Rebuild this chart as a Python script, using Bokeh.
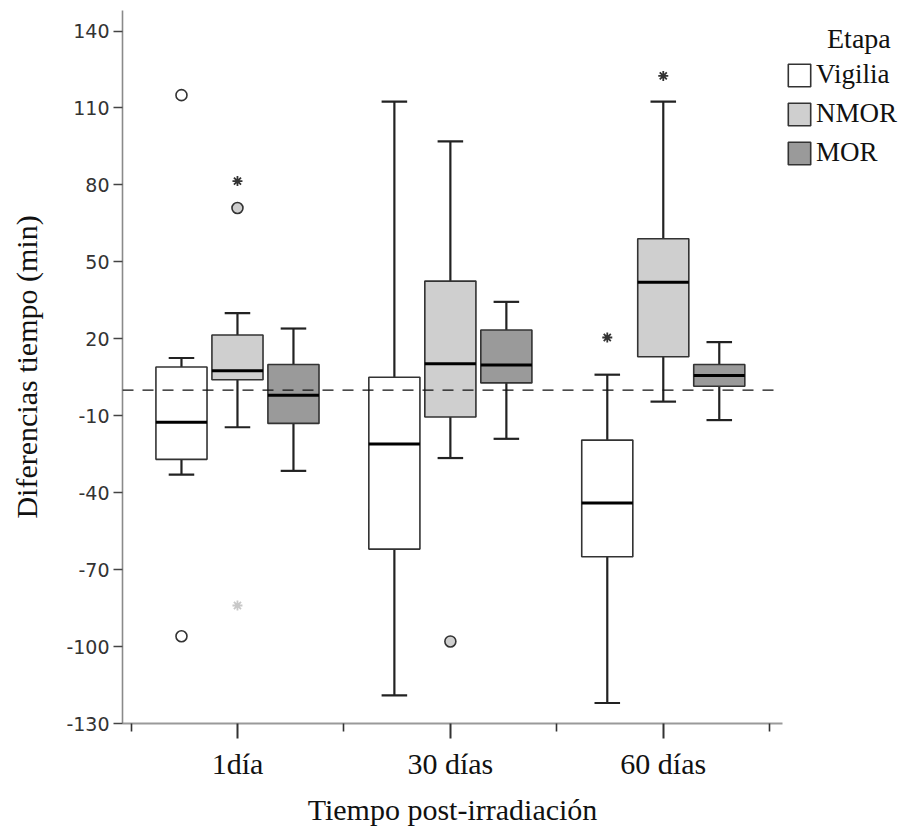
from bokeh.plotting import figure
from bokeh.models import (ColumnDataSource, FixedTicker, Legend, LegendItem, Span,
                          Range1d)
from bokeh.embed import file_html
from bokeh.resources import INLINE

# ---------------- data ----------------
categories = ["1día", "30 días", "60 días"]
stages = ["Vigilia", "NMOR", "MOR"]
y_ticks = [-130, -100, -70, -40, -10, 20, 50, 80, 110, 140]

vigilia_low = [-33, -119, -122]
vigilia_q1 = [-27, -62, -65]
vigilia_med = [-12.5, -21, -44]
vigilia_q3 = [9, 5, -19.5]
vigilia_high = [12.5, 112.5, 6]

nmor_low = [-14.5, -26.5, -4.5]
nmor_q1 = [4, -10.5, 13]
nmor_med = [7.5, 10.3, 42]
nmor_q3 = [21.5, 42.5, 59]
nmor_high = [30, 97, 112.5]

mor_low = [-31.5, -19, -11.7]
mor_q1 = [-13, 2.8, 1.5]
mor_med = [-2, 9.8, 5.7]
mor_q3 = [10, 23.4, 10]
mor_high = [24, 34.4, 18.7]

# outliers: category, stage, value, kind ("o" = outlier, "*" = extreme)
out_cat = ["1día", "1día", "1día", "1día", "1día", "30 días", "60 días", "60 días"]
out_stage = ["Vigilia", "Vigilia", "NMOR", "NMOR", "NMOR", "NMOR", "Vigilia", "NMOR"]
out_value = [115, -96, 71, 81.5, -84, -98, 20.5, 122.5]
out_kind = ["o", "o", "o", "*", "*", "o", "*", "*"]
out_faint = [False, False, False, False, True, False, False, False]

# ---------------- styling ----------------
SERIF = "Liberation Serif"
fills = {"Vigilia": "#ffffff", "NMOR": "#cfcfcf", "MOR": "#9a9a9a"}
offsets = {"Vigilia": -0.263, "NMOR": 0.0, "MOR": 0.263}
BOX_W = 0.24
CAP_W = 0.12

FRAME_W, FRAME_H = 660, 713
LEFT, RIGHT, TOP, BOTTOM = 122, 135, 10, 106

p = figure(frame_width=FRAME_W, frame_height=FRAME_H, output_backend="svg",
           toolbar_location=None,
           x_range=Range1d(-0.54, 2.56), y_range=Range1d(-130, 148),
           min_border_left=LEFT, min_border_right=RIGHT, min_border_top=TOP,
           min_border_bottom=BOTTOM)
p.outline_line_color = None
p.xgrid.visible = False
p.ygrid.visible = False
p.background_fill_color = "white"
p.border_fill_color = "white"

stats = {
    "Vigilia": (vigilia_low, vigilia_q1, vigilia_med, vigilia_q3, vigilia_high),
    "NMOR": (nmor_low, nmor_q1, nmor_med, nmor_q3, nmor_high),
    "MOR": (mor_low, mor_q1, mor_med, mor_q3, mor_high),
}

legend_items = []
for st in stages:
    low, q1, med, q3, high = stats[st]
    xs = [i + offsets[st] for i in range(len(categories))]
    src = ColumnDataSource(dict(
        x=xs, x0=[x - BOX_W / 2 for x in xs], x1=[x + BOX_W / 2 for x in xs],
        c0=[x - CAP_W / 2 for x in xs], c1=[x + CAP_W / 2 for x in xs],
        low=low, q1=q1, med=med, q3=q3, high=high))
    p.segment(x0="x", y0="q3", x1="x", y1="high", source=src, line_color="#222222", line_width=2.2)
    p.segment(x0="x", y0="q1", x1="x", y1="low", source=src, line_color="#222222", line_width=2.2)
    p.segment(x0="c0", y0="high", x1="c1", y1="high", source=src, line_color="#222222", line_width=2.2)
    p.segment(x0="c0", y0="low", x1="c1", y1="low", source=src, line_color="#222222", line_width=2.2)
    r = p.vbar(x="x", width=BOX_W, bottom="q1", top="q3", source=src,
               fill_color=fills[st], line_color="#333333", line_width=1.6)
    legend_items.append(LegendItem(label=st, renderers=[r]))
    p.segment(x0="x0", y0="med", x1="x1", y1="med", source=src, line_color="#000000", line_width=3)

# outliers
ci = {c: i for i, c in enumerate(categories)}
ox, oy, ofill = [], [], []
ax_, ay_, acol = [], [], []
for c, st, v, k, f in zip(out_cat, out_stage, out_value, out_kind, out_faint):
    x = ci[c] + offsets[st]
    if k == "o":
        ox.append(x); oy.append(v); ofill.append(fills[st])
    else:
        ax_.append(x); ay_.append(v); acol.append("#c8c8c8" if f else "#333333")
p.scatter(x="x", y="y", source=ColumnDataSource(dict(x=ox, y=oy, f=ofill)),
          marker="circle", size=11, fill_color="f", line_color="#333333", line_width=1.6)
p.scatter(x="x", y="y", source=ColumnDataSource(dict(x=ax_, y=ay_, c=acol)),
          marker="asterisk", size=10, line_color="c", line_width=1.8)

p.add_layout(Span(location=0, dimension="width", line_color="#111111",
                  line_width=1.3, line_dash="11 9"))

# axes
p.yaxis.ticker = FixedTicker(ticks=y_ticks, minor_ticks=[])
p.yaxis.major_label_overrides = {v: str(v) for v in y_ticks}
p.yaxis.axis_line_color = "#8a8a8a"
p.yaxis.axis_line_width = 1.6
p.yaxis.major_tick_out = 9
p.yaxis.major_tick_in = 0
p.yaxis.major_tick_line_color = "#444444"
p.yaxis.major_tick_line_width = 1.6
p.yaxis.major_label_text_font = "DejaVu Sans"
p.yaxis.major_label_text_font_size = "19px"
p.yaxis.major_label_text_color = "#333333"
p.yaxis.major_label_standoff = 4
p.yaxis.axis_label = "Diferencias tiempo (min)"
p.yaxis.axis_label_text_font = SERIF
p.yaxis.axis_label_text_font_style = "normal"
p.yaxis.axis_label_text_font_size = "30px"
p.yaxis.axis_label_text_color = "#111111"
p.yaxis.axis_label_standoff = 20

p.xaxis.ticker = FixedTicker(ticks=[0, 1, 2], minor_ticks=[-0.5, 0.5, 1.5, 2.5])
p.xaxis.major_label_overrides = {i: c for i, c in enumerate(categories)}
p.xaxis.axis_line_color = "#9a9a9a"
p.xaxis.axis_line_width = 2.2
p.xaxis.major_tick_out = 15
p.xaxis.major_tick_in = 0
p.xaxis.minor_tick_out = 8
p.xaxis.minor_tick_in = 0
p.xaxis.major_tick_line_color = "#333333"
p.xaxis.major_tick_line_width = 2
p.xaxis.minor_tick_line_color = "#333333"
p.xaxis.minor_tick_line_width = 1.6
p.xaxis.major_label_text_font = SERIF
p.xaxis.major_label_text_font_size = "30px"
p.xaxis.major_label_text_color = "#111111"
p.xaxis.major_label_standoff = 8
p.xaxis.axis_label = "Tiempo post-irradiación"
p.xaxis.axis_label_text_font = SERIF
p.xaxis.axis_label_text_font_style = "normal"
p.xaxis.axis_label_text_font_size = "30px"
p.xaxis.axis_label_text_color = "#111111"
p.xaxis.axis_label_standoff = 10

NB = "\u00a0"
legend = Legend(items=legend_items, location=(3, FRAME_H - 168 + TOP),
                glyph_width=28, glyph_height=28, label_standoff=3, spacing=8,
                padding=0, margin=0, border_line_color=None,
                background_fill_alpha=0,
                label_text_font=SERIF, label_text_font_size="27px",
                label_text_color="#111111",
                label_height=28,
                title=NB * 6 + "Etapa", title_text_font=SERIF,
                title_text_font_size="28px", title_text_font_style="normal",
                title_text_color="#111111",
                title_standoff=4)
p.add_layout(legend, "right")

open("out.html", "w").write(file_html(p, INLINE))
